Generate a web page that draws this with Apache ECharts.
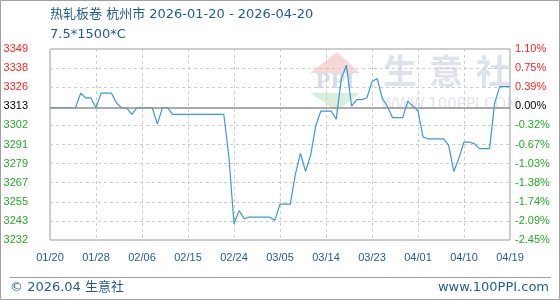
<!DOCTYPE html>
<html><head><meta charset="utf-8">
<script src="https://cdn.jsdelivr.net/npm/echarts@6/dist/echarts.min.js"></script>
<style>html,body{margin:0;padding:0;background:#fff}#c{width:560px;height:300px}</style>
</head><body><div id="c"></div>
<script>
// ---- data ----
const startDate = '2026-01-20';
const prices = [
  3313,3313,3313,3313,3313,3313,3322,3319,3319,3313,
  3322,3322,3322,3316,3313,3313,3309,3313,3313,3313,
  3313,3303,3313,3313,3309,3309,3309,3309,3309,3309,
  3309,3309,3309,3309,3309,3283,3242,3250,3245,3246,
  3246,3246,3246,3246,3244,3254,3254,3254,3272,3285,
  3274,3284,3302,3311,3311,3311,3306,3331,3339,3314,
  3318,3318,3319,3329,3331,3319,3314,3307,3307,3307,
  3317,3314,3311,3295,3294,3294,3294,3294,3290,3274,
  3282,3292,3292,3291,3288,3288,3288,3316,3326,3326,
  3326
];
const baseValue = 3313;
const yMin = 3232, yMax = 3349;
const xTickLabels = ['01/20','01/28','02/06','02/15','02/24','03/05','03/14','03/23','04/01','04/10','04/19'];
const leftLabels = ['3232','3243','3255','3267','3279','3291','3302','3313','3326','3338','3349'];
const rightLabels = ['-2.45%','-2.09%','-1.74%','-1.38%','-1.03%','-0.67%','-0.32%','0.00%','0.39%','0.75%','1.10%'];
const titleText = '热轧板卷 杭州市 2026-01-20 - 2026-04-20';
const subTitle = '7.5*1500*C';

// date categories
const dates = [];
{
  const d0 = new Date(startDate + 'T00:00:00Z');
  for (let i = 0; i < prices.length; i++) {
    const d = new Date(d0.getTime() + i * 86400000);
    dates.push(d.toISOString().slice(0, 10));
  }
}

const FONT = '"Liberation Sans", Arial, sans-serif';
const BLUE = '#1f5d8c';
const baseIdx = leftLabels.indexOf(String(baseValue));
function tag(i){ return i > baseIdx ? 'r' : (i < baseIdx ? 'g' : 'k'); }
const rich = {
  r:{color:'#ff2020',fontSize:11,fontFamily:FONT},
  g:{color:'#22a822',fontSize:11,fontFamily:FONT},
  k:{color:'#000000',fontSize:11,fontFamily:FONT}
};

const chart = echarts.init(document.getElementById('c'), null, {renderer:'canvas'});
chart.setOption({
  animation:false,
  backgroundColor:'#fff',
  grid:[
    {left:50,right:50,top:49,bottom:60,show:true,borderColor:'#9a9a9a',borderWidth:1,backgroundColor:'transparent'},
    {left:50,right:50,top:49,bottom:60,show:false}
  ],
  xAxis:[
    {type:'category',gridIndex:0,data:dates,boundaryGap:false,
     axisLine:{show:false},axisTick:{show:false},axisLabel:{show:false},
     splitLine:{show:true,interval:function(i){return i%9===0;},lineStyle:{color:'#cccccc',type:[3,3],width:1}}},
    {type:'category',gridIndex:1,data:xTickLabels,boundaryGap:false,
     axisLine:{show:false},axisTick:{show:false},splitLine:{show:false},
     axisLabel:{show:true,interval:0,margin:12,color:BLUE,fontSize:11,fontFamily:FONT}}
  ],
  yAxis:[
    {type:'category',gridIndex:0,position:'left',data:leftLabels,boundaryGap:false,
     axisLine:{show:false},axisTick:{show:false},
     axisLabel:{interval:0,margin:22,formatter:function(v,i){return '{'+tag(i)+'|'+v+'}';},rich:rich},
     splitLine:{show:true,interval:function(i){return i!==baseIdx && i!==0 && i!==leftLabels.length-1;},lineStyle:{color:'#cccccc',type:[3,3],width:1}}},
    {type:'category',gridIndex:0,position:'right',data:rightLabels,boundaryGap:false,
     axisLine:{show:false},axisTick:{show:false},splitLine:{show:false},
     axisLabel:{interval:0,margin:5,align:'left',formatter:function(v,i){return '{'+tag(i)+'|'+v+'}';},rich:rich}},
    {type:'value',gridIndex:0,min:yMin,max:yMax,show:false,splitLine:{show:false}},
    {type:'value',gridIndex:1,show:false,splitLine:{show:false}}
  ],
  graphic:[
    {type:'rect',z:-10,shape:{x:0.5,y:0.5,width:559,height:299},style:{fill:'none',stroke:'#a0a0a0',lineWidth:1}},
    // watermark
    {type:'polygon',z:-5,shape:{points:[[310,73],[337,52],[360,73]]},style:{fill:'#f6d9d4'}},
    {type:'polygon',z:-5,shape:{points:[[310,93],[360,93],[337,111]]},style:{fill:'#d9eedb'}},
    {type:'text',z:-4,style:{x:335,y:83,text:'PPI',fill:'#d6dce9',font:'bold 20px "DejaVu Serif", serif',textAlign:'center',textVerticalAlign:'middle'}},
    {type:'text',z:-4,style:{x:400,y:71,text:'生',fill:'#dde2ec',font:'bold 34px "Noto Sans CJK SC", sans-serif',textAlign:'center',textVerticalAlign:'middle'}},
    {type:'text',z:-4,style:{x:446,y:71,text:'意',fill:'#dde2ec',font:'bold 34px "Noto Sans CJK SC", sans-serif',textAlign:'center',textVerticalAlign:'middle'}},
    {type:'text',z:-4,style:{x:493,y:71,text:'社',fill:'#dde2ec',font:'bold 34px "Noto Sans CJK SC", sans-serif',textAlign:'center',textVerticalAlign:'middle'}},
    {type:'text',z:-4,style:{x:450,y:105,text:'WWW.100PPI.COM',fill:'#e2e5ea',font:'15px "DejaVu Sans", sans-serif',textAlign:'center',textVerticalAlign:'middle'}},
    // titles
    {type:'text',style:{x:50,y:15,text:titleText,fill:BLUE,font:'13px "DejaVu Sans", "Noto Sans CJK SC", sans-serif',textVerticalAlign:'middle'}},
    {type:'text',style:{x:50,y:35,text:subTitle,fill:BLUE,font:'13px "DejaVu Sans", sans-serif',textVerticalAlign:'middle'}},
    // footer
    {type:'line',shape:{x1:10,y1:277.5,x2:551,y2:277.5},style:{stroke:'#a0a0a0',lineWidth:1}},
    {type:'text',style:{x:10,y:288,text:'© 2026.04 生意社',fill:BLUE,font:'13px "DejaVu Sans", "Noto Sans CJK SC", sans-serif',textVerticalAlign:'middle'}},
    {type:'text',style:{x:549,y:288,text:'www.100PPI.com',fill:BLUE,font:'13px "DejaVu Sans", sans-serif',textAlign:'right',textVerticalAlign:'middle'}}
  ],
  series:[
    {type:'line',xAxisIndex:0,yAxisIndex:2,data:prices,showSymbol:false,symbol:'none',
     lineStyle:{color:'#3a98d6',width:1.2},
     markLine:{silent:true,symbol:'none',label:{show:false},
       lineStyle:{color:'#8f8f8f',type:'solid',width:1.5},
       data:[{yAxis:baseValue}]}}
  ]
});
</script>
</body></html>
